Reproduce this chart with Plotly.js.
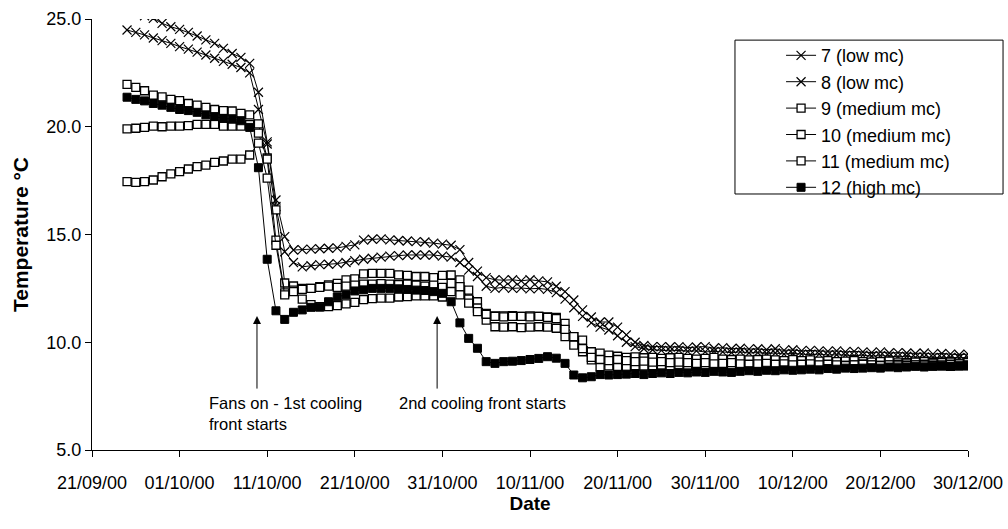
<!DOCTYPE html>
<html>
<head>
<meta charset="utf-8">
<script src="https://cdn.plot.ly/plotly-3.0.1.min.js"></script>
<style>html,body{margin:0;padding:0;background:#fff;}#chart{width:1008px;height:529px;}</style>
</head>
<body>
<div id="chart"></div>
<script>
// First reading date (daily readings to 30/12/00)
const startDate = '2000-09-25';

const seriesNames = ['7 (low mc)', '8 (low mc)', '9 (medium mc)', '10 (medium mc)', '11 (medium mc)', '12 (high mc)'];

const s7 = [25.6, 25.35, 25.15, 25.03, 24.80, 24.64, 24.52, 24.38, 24.21, 24.03, 23.87, 23.64, 23.40, 23.22, 22.94,
  21.6, 19.3, 16.6, 14.9,
  14.28, 14.3, 14.32, 14.34, 14.36, 14.38, 14.45, 14.52, 14.74, 14.78, 14.8, 14.75, 14.72, 14.7, 14.67, 14.65, 14.6, 14.55, 14.5, 14.3,
  13.7, 13.3, 13.0, 12.9, 12.88, 12.9, 12.85, 12.9, 12.85, 12.8, 12.6, 12.35, 11.96, 11.5, 11.17, 10.94, 10.94, 10.7, 10.34, 10.0, 9.85, 9.8,
  9.8, 9.78, 9.8, 9.75, 9.78, 9.8, 9.72, 9.75, 9.7, 9.72, 9.68, 9.7, 9.65, 9.7, 9.62, 9.65, 9.6, 9.62, 9.6, 9.58, 9.6, 9.55, 9.58, 9.55, 9.52, 9.55, 9.5, 9.52, 9.5, 9.48, 9.5, 9.45, 9.48, 9.45, 9.42, 9.45];

const s8 = [24.49, 24.38, 24.26, 24.12, 24.0, 23.87, 23.72, 23.6, 23.46, 23.33, 23.18, 23.03, 22.9, 22.75, 22.5,
  20.8, 19.2, 16.3, 14.2,
  13.7, 13.5, 13.55, 13.6, 13.62, 13.65, 13.7, 13.78, 13.85, 13.9, 13.95, 14.0, 14.02, 14.05, 14.05, 14.05, 14.05, 14.0, 13.95, 13.7,
  13.35, 13.05, 12.6, 12.5, 12.55, 12.5, 12.52, 12.48, 12.5, 12.45, 12.3, 12.0, 11.6, 11.2, 10.9, 10.7, 10.57, 10.3, 10.0, 9.8, 9.7, 9.65,
  9.62, 9.6, 9.62, 9.58, 9.6, 9.55, 9.58, 9.55, 9.52, 9.55, 9.5, 9.52, 9.48, 9.5, 9.45, 9.48, 9.45, 9.42, 9.45, 9.4, 9.42, 9.4, 9.38, 9.4, 9.35, 9.38, 9.35, 9.33, 9.35, 9.3, 9.32, 9.3, 9.28, 9.3, 9.28, 9.3];

const s9 = [21.97, 21.83, 21.67, 21.47, 21.39, 21.27, 21.21, 21.08, 21.0, 20.9, 20.8, 20.75, 20.73, 20.62, 20.55,
  20.13, 18.55, 16.14, 12.75,
  12.61, 12.5, 12.5, 12.58, 12.66, 12.73, 12.89, 12.94, 13.17, 13.2, 13.2, 13.2, 13.13, 13.1, 13.05, 13.05, 13.0, 13.1, 13.12, 12.89,
  12.42, 11.88, 11.34, 11.22, 11.22, 11.24, 11.2, 11.22, 11.2, 11.18, 11.15, 10.88, 10.26, 10.1, 9.56, 9.5, 9.4, 9.35,
  9.3, 9.32, 9.28, 9.3, 9.25, 9.28, 9.3, 9.25, 9.22, 9.25, 9.3, 9.22, 9.2, 9.22, 9.18, 9.2, 9.22, 9.18, 9.15, 9.2, 9.15, 9.18, 9.12, 9.15, 9.1, 9.12, 9.15, 9.1, 9.08, 9.1, 9.12, 9.08, 9.05, 9.08, 9.1, 9.05, 9.05, 9.08, 9.02, 9.05];

const s10 = [19.9, 19.93, 19.97, 20.03, 20.0, 20.03, 20.03, 20.05, 20.11, 20.11, 20.11, 20.03, 20.03, 20.03, 20.1,
  19.7, 18.5, 14.74, 12.29,
  12.42, 12.45, 12.5, 12.55, 12.6, 12.55, 12.6, 12.65, 12.7, 12.7, 12.72, 12.7, 12.68, 12.7, 12.65, 12.6, 12.65, 12.55, 12.73, 12.58,
  12.0, 11.59, 11.03, 10.72, 10.7, 10.72, 10.68, 10.7, 10.72, 10.7, 10.65, 10.26, 9.87, 9.56, 9.18, 8.87, 8.9, 8.88,
  8.85, 8.88, 8.9, 8.85, 8.88, 8.9, 8.85, 8.88, 8.9, 8.92, 8.88, 8.9, 8.85, 8.88, 8.9, 8.92, 8.9, 8.88, 8.9, 8.92, 8.95, 8.9, 8.92, 8.95, 8.9, 8.92, 8.95, 8.98, 8.95, 8.92, 8.95, 8.98, 9.0, 8.95, 8.98, 9.0, 8.95, 8.98, 9.0, 8.95];

const s11 = [17.45, 17.42, 17.45, 17.53, 17.68, 17.81, 17.92, 18.04, 18.15, 18.22, 18.35, 18.41, 18.5, 18.5, 18.69,
  19.24, 17.62, 14.5, 12.2,
  12.35, 12.0, 11.75, 11.65, 11.65, 11.7, 11.78, 11.85, 11.98, 12.02, 12.05, 12.05, 12.1, 12.12, 12.15, 12.15, 12.15, 12.1, 12.35, 12.2,
  11.82, 11.42, 11.3, 11.2, 11.18, 11.2, 11.2, 11.18, 11.2, 11.15, 11.1, 10.6, 10.26, 9.7, 9.3, 9.2, 9.15, 9.2,
  9.15, 9.1, 9.12, 9.08, 9.1, 9.05, 9.08, 9.05, 9.02, 9.05, 9.0, 9.02, 9.05, 9.0, 8.98, 9.0, 9.02, 8.98, 9.0, 8.95, 8.98, 9.0, 8.95, 8.98, 8.95, 8.92, 8.95, 8.98, 8.95, 8.92, 8.95, 8.9, 8.92, 8.95, 8.9, 8.92, 8.9, 8.88, 8.9, 8.92];

const s12 = [21.37, 21.27, 21.2, 21.08, 21.0, 20.9, 20.8, 20.75, 20.67, 20.55, 20.47, 20.39, 20.35, 20.28, 19.97,
  18.1, 13.85, 11.46, 11.06,
  11.39, 11.5, 11.62, 11.63, 11.88, 12.11, 12.2, 12.38, 12.43, 12.5, 12.5, 12.5, 12.48, 12.45, 12.42, 12.4, 12.35, 12.27, 11.88, 10.9,
  10.18, 9.72, 9.1, 9.02, 9.1, 9.12, 9.15, 9.2, 9.25, 9.33, 9.26, 9.02, 8.48, 8.35, 8.4, 8.5, 8.48, 8.5,
  8.52, 8.55, 8.5, 8.55, 8.58, 8.55, 8.6, 8.58, 8.62, 8.6, 8.65, 8.62, 8.6, 8.65, 8.68, 8.65, 8.7, 8.68, 8.72, 8.7, 8.72, 8.75, 8.72, 8.78, 8.75, 8.8, 8.78, 8.8, 8.82, 8.8, 8.85, 8.82, 8.85, 8.88, 8.85, 8.88, 8.9, 8.88, 8.9, 8.9];

const allSeries = [s7, s8, s9, s10, s11, s12];

// daily reading dates
function buildDates(start, n) {
  const out = [];
  const t0 = Date.parse(start + 'T00:00:00Z');
  for (let i = 0; i < n; i++) {
    const d = new Date(t0 + i * 86400000);
    out.push(d.toISOString().slice(0, 10));
  }
  return out;
}

const FONT = 'Liberation Sans, Arial, sans-serif';

const styles = [
  {symbol: 'x-thin-open', size: 9, color: '#000', line: {color: '#000', width: 1.2}},
  {symbol: 'x-thin-open', size: 9, color: '#000', line: {color: '#000', width: 1.2}},
  {symbol: 'square', size: 8, color: '#fff', line: {color: '#000', width: 1.3}},
  {symbol: 'square', size: 8, color: '#fff', line: {color: '#000', width: 1.3}},
  {symbol: 'square', size: 8, color: '#fff', line: {color: '#000', width: 1.3}},
  {symbol: 'square', size: 8, color: '#000', line: {color: '#000', width: 1}}
];

const traces = allSeries.map((vals, i) => ({
  type: 'scatter',
  mode: 'lines+markers',
  name: seriesNames[i],
  x: buildDates(startDate, vals.length),
  y: vals,
  line: {color: '#000', width: 1},
  marker: styles[i]
}));

const layout = {
  width: 1008,
  height: 529,
  margin: {l: 92, r: 40, t: 19, b: 79},
  paper_bgcolor: '#fff',
  plot_bgcolor: '#fff',
  font: {family: FONT, size: 17, color: '#000'},
  showlegend: true,
  legend: {
    x: 0.7866, y: 0.958, xanchor: 'left', yanchor: 'top',
    bgcolor: 'rgba(0,0,0,0)', borderwidth: 0,
    font: {family: FONT, size: 18, color: '#000'}
  },
  xaxis: {
    type: 'date',
    range: ['2000-09-21', '2000-12-30'],
    tick0: '2000-09-21',
    dtick: 864000000,
    tickformat: '%d/%m/%y',
    ticks: 'outside', ticklen: 6, tickcolor: '#000', tickwidth: 1,
    ticklabelstandoff: 10,
    showline: true, linecolor: '#000', linewidth: 1,
    showgrid: false, zeroline: false,
    tickfont: {family: FONT, size: 18, color: '#000'},
    title: {text: 'Date', font: {family: FONT, size: 19, color: '#000', weight: 'bold'}, standoff: 2}
  },
  yaxis: {
    range: [5, 25],
    dtick: 5,
    tickformat: '.1f',
    ticks: 'outside', ticklen: 6, tickcolor: '#000', tickwidth: 1,
    showline: true, linecolor: '#000', linewidth: 1,
    showgrid: false, zeroline: false,
    tickfont: {family: FONT, size: 18, color: '#000'},
    title: {text: 'Temperature °C', font: {family: FONT, size: 21, color: '#000', weight: 'bold'}, standoff: 12}
  },
  shapes: [{
    type: 'rect', xref: 'paper', yref: 'paper',
    x0: 0.734, x1: 1.04, y0: 0.594, y1: 0.951,
    line: {color: '#000', width: 1}, fillcolor: 'rgba(0,0,0,0)', layer: 'above'
  }],
  annotations: [
    {xref: 'x', yref: 'y', x: '2000-10-09 20:00', y: 11.22, axref: 'x', ayref: 'y',
     ax: '2000-10-09 20:00', ay: 7.78, text: '', showarrow: true, arrowhead: 2, arrowsize: 1.6, arrowwidth: 1, arrowcolor: '#000'},
    {xref: 'x', yref: 'y', x: '2000-10-30 09:30', y: 11.22, axref: 'x', ayref: 'y',
     ax: '2000-10-30 09:30', ay: 7.78, text: '', showarrow: true, arrowhead: 2, arrowsize: 1.6, arrowwidth: 1, arrowcolor: '#000'},
    {xref: 'x', yref: 'y', x: '2000-10-04 04:00', y: 7.7, xanchor: 'left', yanchor: 'top', align: 'left',
     text: 'Fans on - 1st cooling<br>front starts', showarrow: false, font: {family: FONT, size: 16.5, color: '#000'}},
    {xref: 'x', yref: 'y', x: '2000-10-25 20:00', y: 7.7, xanchor: 'left', yanchor: 'top', align: 'left',
     text: '2nd cooling front starts', showarrow: false, font: {family: FONT, size: 16.5, color: '#000'}}
  ]
};

Plotly.newPlot('chart', traces, layout, {displayModeBar: false, staticPlot: true});
</script>
</body>
</html>
